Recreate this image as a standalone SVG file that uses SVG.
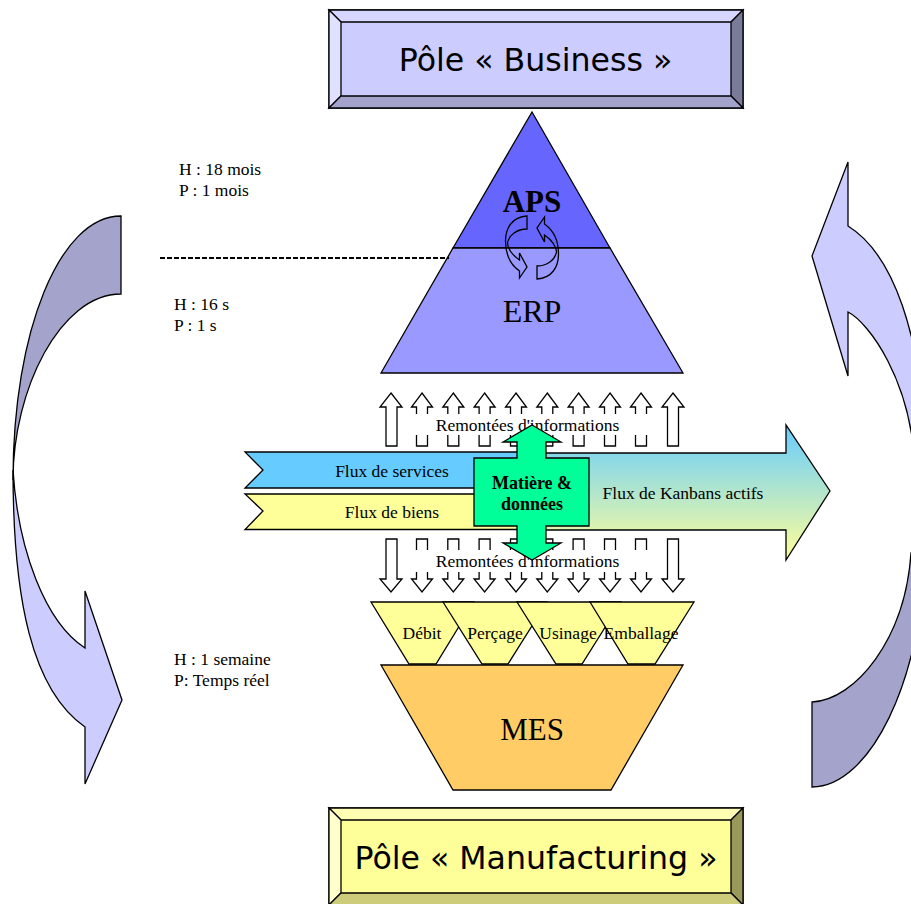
<svg xmlns="http://www.w3.org/2000/svg" xmlns:xlink="http://www.w3.org/1999/xlink" width="911" height="904" viewBox="0 0 911 904">
<style>
.s{stroke:#000;stroke-width:1.3;stroke-linejoin:miter}
.a{fill:#fff;stroke:#000;stroke-width:1.3}
.t{font-family:"Liberation Serif","Times New Roman",serif;fill:#000;font-size:17.5px}
.m{text-anchor:middle}
.b{font-weight:bold;font-size:18px}
.p{font-family:"DejaVu Sans",sans-serif;font-size:31.6px;text-anchor:middle;fill:#000}
</style>
<defs>
<linearGradient id="kb" x1="0" y1="0" x2="0" y2="1"><stop offset="0" stop-color="#66ccff"/><stop offset="1" stop-color="#ffff99"/></linearGradient>
<path id="cyc" d="M527,216 C512,217 505.500,228 505.500,241 C505.500,255 511,265 519.500,271 L519.500,278 L527,267 L519.500,253 L519.500,260 C512,255 507.500,248 507.500,243 C509,235 517,229 527,229 Z"/>
</defs>
<rect width="911" height="904" fill="#fff"/>

<g id="pole-business">
<rect x="329" y="10" width="414" height="98" fill="#ccccff" class="s"/>
<polygon points="329,10 743,10 731,22 341,22" fill="#d6d6ff" class="s"/>
<polygon points="329,10 341,22 341,96 329,108" fill="#e0e0ff" class="s"/>
<polygon points="743,10 731,22 731,96 743,108" fill="#7a7a99" class="s"/>
<polygon points="329,108 341,96 731,96 743,108" fill="#a3a3cc" class="s"/>
<text class="p" x="535.500" y="71">Pôle « Business »</text>
</g>

<g id="pole-manufacturing">
<rect x="329" y="808" width="414" height="98" fill="#ffff99" class="s"/>
<polygon points="329,808 743,808 731,820 341,820" fill="#ffffb3" class="s"/>
<polygon points="329,808 341,820 341,893 329,905" fill="#ffffcc" class="s"/>
<polygon points="743,808 731,820 731,893 743,905" fill="#99995c" class="s"/>
<polygon points="329,905 341,893 731,893 743,905" fill="#cccc7a" class="s"/>
<text class="p" x="536" y="869">Pôle « Manufacturing »</text>
</g>

<g id="pyramid">
<polygon points="532,112 610,248 453,248" fill="#6666ff" class="s"/>
<polygon points="453,248 610,248 683,373 381,373" fill="#9999ff" class="s"/>
<text class="t m" x="532" y="212" font-weight="bold" style="font-size:31px">APS</text>
<text class="t m" x="532" y="322" style="font-size:32px">ERP</text>
<use xlink:href="#cyc" href="#cyc" fill="none" stroke="#000" stroke-width="1.3"/>
<use xlink:href="#cyc" href="#cyc" fill="none" stroke="#000" stroke-width="1.3" transform="rotate(180 532 247.500)"/>
</g>

<g id="connectors">
<line x1="160" y1="258" x2="449" y2="258" stroke="#000" stroke-width="2" stroke-dasharray="5 2"/>
<g id="up-arrows" class="a">
<path d="M391,393 L402,407 L397,407 L397,446 L386,446 L386,407 L380,407 Z"/>
<path id="u" d="M422,393 L432.500,407 L427.500,407 L427.500,446 L416.500,446 L416.500,407 L411.500,407 Z"/>
<use href="#u" x="31.300"/><use href="#u" x="62.600"/><use href="#u" x="94"/><use href="#u" x="125.300"/><use href="#u" x="156.600"/><use href="#u" x="188"/><use href="#u" x="219"/>
<path d="M673,393 L684,407 L678.500,407 L678.500,446 L667.500,446 L667.500,407 L662,407 Z"/>
</g>
<g id="down-arrows" class="a">
<path d="M386,539 L397,539 L397,579 L402,579 L391,592 L380,579 L386,579 Z"/>
<path id="d" d="M416.500,539 L427.500,539 L427.500,579 L432.500,579 L422,592 L411.500,579 L416.500,579 Z"/>
<use href="#d" x="31.300"/><use href="#d" x="62.600"/><use href="#d" x="94"/><use href="#d" x="125.300"/><use href="#d" x="156.600"/><use href="#d" x="188"/><use href="#d" x="219"/>
<path d="M667.500,539 L678.500,539 L678.500,579 L684,579 L673,592 L662,579 L667.500,579 Z"/>
</g>
<rect x="410" y="414" width="245" height="21" fill="#fff"/>
<rect x="410" y="550" width="245" height="22" fill="#fff"/>
<text class="t m" x="527.500" y="431">Remontées d'informations</text>
<text class="t m" x="527.500" y="567">Remontées d'informations</text>
</g>

<g id="flux-kanbans">
<polygon points="530,453 786,453 786,425 830,491 786,560 786,530 530,530" fill="url(#kb)" class="s"/>
<text class="t m" x="683" y="499">Flux de Kanbans actifs</text>
</g>
<g id="flux-services">
<polygon points="245,452 530,452 530,488 245,488 263,470" fill="#66ccff" class="s"/>
<text class="t m" x="392" y="477">Flux de services</text>
</g>
<g id="flux-biens">
<polygon points="245,494 530,494 530,529.500 245,529.500 263,511" fill="#ffff99" class="s"/>
<text class="t m" x="392" y="518">Flux de biens</text>
</g>
<g id="matiere">
<polygon points="532,425 561,442 546,442 546,458 589,458 589,526 546,526 546,543 561,543 532,560 503,543 517,543 517,526 474,526 474,458 517,458 517,442 503,442" fill="#00ff99" class="s"/>
<text class="t m b" x="532" y="489">Matière &amp;</text>
<text class="t m b" x="532" y="510">données</text>
</g>

<g id="debit"><polygon points="371,602 474,602 436,664 409,664" fill="#ffff99" class="s"/><text class="t m" x="422" y="639">Débit</text></g>
<g id="percage"><polygon points="443,602 547,602 508,664 482,664" fill="#ffff99" class="s"/><text class="t m" x="495" y="639">Perçage</text></g>
<g id="usinage"><polygon points="517,602 621,602 582,664 556,664" fill="#ffff99" class="s"/><text class="t m" x="568" y="639">Usinage</text></g>
<g id="emballage"><polygon points="590,602 694,602 655,664 628,664" fill="#ffff99" class="s"/><text class="t m" x="641" y="639">Emballage</text></g>
<g id="mes"><polygon points="381,665 683,665 611,790 453,790" fill="#ffcc66" class="s"/><text class="t m" x="532" y="740" style="font-size:31px">MES</text></g>

<g id="cycle-left">
<path d="M13,470 C13,600 32,690 85,727 L85,784 L122,700 L85,591 L85,648 C45,622 18,550 13,470 Z" fill="#ccccff" class="s"/>
<path d="M121,216 C60,216 13,330 13,480 C13,390 60,294 121,294 Z" fill="#a3a3cc" class="s"/>
</g>
<g id="cycle-right">
<path d="M848,226 C890,252 925,330 925,470 L915,470 C912,380 868,322 848,312 L848,376 L812,256 L848,162 Z" fill="#ccccff" class="s"/>
<path d="M812,702 C855,700 905,640 911,553 L925,553 C922,680 870,787 812,787 Z" fill="#a3a3cc" class="s"/>
</g>

<g id="labels">
<text class="t" x="179" y="175">H : 18 mois</text>
<text class="t" x="179" y="196">P : 1 mois</text>
<text class="t" x="174" y="310">H : 16 s</text>
<text class="t" x="174" y="331">P : 1 s</text>
<text class="t" x="174" y="665">H : 1 semaine</text>
<text class="t" x="174" y="686">P: Temps réel</text>
</g>
</svg>
